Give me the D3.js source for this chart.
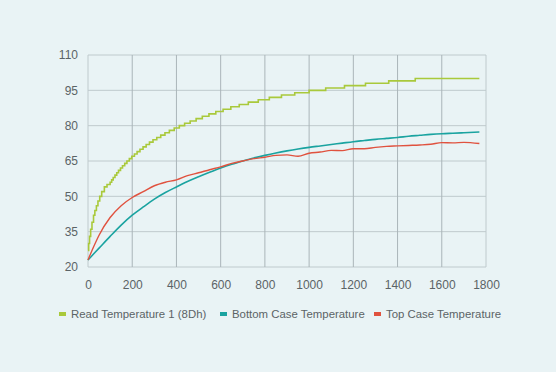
<!DOCTYPE html>
<html>
<head>
<meta charset="utf-8">
<script src="https://cdn.jsdelivr.net/npm/d3@7"></script>
<style>
  html, body { margin: 0; padding: 0; background: #e9f3f5; }
  text { font-family: "Liberation Sans", Arial, sans-serif; }
</style>
</head>
<body>
<svg id="chart" width="556" height="372"></svg>
<script>
(function(){
    'use strict';

    // Read Temperature 1 (8Dh): time at which each reading step starts
    const readTime  = [0, 3, 7, 12, 18, 25, 31, 38, 45, 53, 62, 74, 86, 100, 107, 114, 122, 130, 138, 147, 156, 166, 176, 187, 198, 210, 222, 235, 249, 263, 278, 294, 311, 329, 348, 368, 390, 413, 437, 462, 489, 517, 547, 578, 611, 646, 684, 725, 770, 820, 875, 935, 1000, 1075, 1160, 1255, 1360, 1480, 1770];
    const readValue = [27, 30, 33, 36, 39, 42, 44, 46, 48, 50, 52, 54, 55, 56, 57, 58, 59, 60, 61, 62, 63, 64, 65, 66, 67, 68, 69, 70, 71, 72, 73, 74, 75, 76, 77, 78, 79, 80, 81, 82, 83, 84, 85, 86, 87, 88, 89, 90, 91, 92, 93, 94, 95, 96, 97, 98, 99, 100, 100];

    // Bottom / top case temperatures sampled along time
    const caseTime    = [0, 25, 50, 100, 150, 200, 250, 300, 350, 400, 450, 500, 550, 600, 650, 700, 750, 800, 850, 900, 950, 1000, 1050, 1100, 1150, 1200, 1250, 1300, 1350, 1400, 1450, 1500, 1550, 1600, 1650, 1700, 1770];
    const bottomValue = [23, 25.5, 28, 33, 37.8, 42, 45.5, 48.8, 51.6, 54, 56.3, 58.3, 60.2, 62, 63.6, 65, 66.3, 67.4, 68.4, 69.3, 70.1, 70.8, 71.4, 72, 72.6, 73.2, 73.7, 74.2, 74.6, 75, 75.5, 75.9, 76.3, 76.6, 76.8, 77, 77.3];
    const topValue    = [23, 28.5, 33.5, 41, 46, 49.5, 52, 54.5, 56, 57, 58.8, 60, 61.3, 62.5, 64, 65, 66, 66.6, 67.4, 67.6, 67, 68.3, 68.8, 69.5, 69.4, 70.2, 70.2, 70.8, 71.2, 71.4, 71.6, 71.8, 72.1, 72.8, 72.7, 72.9, 72.4];

    const xTicks = [0, 200, 400, 600, 800, 1000, 1200, 1400, 1600, 1800];
    const yTicks = [20, 35, 50, 65, 80, 95, 110];

    const seriesNames  = ['Read Temperature 1 (8Dh)', 'Bottom Case Temperature', 'Top Case Temperature'];
    const seriesColors = ['#a9c93b', '#1aa3a0', '#e0523f'];

    const margin = {top: 55, right: 70, bottom: 105, left: 88};
    const width = 556;
    const height = 372;

    const svg = d3.select('#chart');

    const x = d3.scaleLinear()
        .domain([0, 1800])
        .range([margin.left, width - margin.right]);

    const y = d3.scaleLinear()
        .domain([20, 110])
        .range([height - margin.bottom, margin.top]);

    // grid
    const grid = svg.append('g');
    grid.selectAll('line.h')
        .data(yTicks)
        .enter()
        .append('line')
            .attr('x1', x(0))
            .attr('x2', x(1800))
            .attr('y1', d => y(d))
            .attr('y2', d => y(d))
            .attr('stroke', '#bfcacd')
            .attr('stroke-width', 1);
    grid.selectAll('line.v')
        .data(xTicks)
        .enter()
        .append('line')
            .attr('x1', d => x(d))
            .attr('x2', d => x(d))
            .attr('y1', y(20))
            .attr('y2', y(110))
            .attr('stroke', d => (d === 0 || d === 1800) ? '#bfcacd' : '#aab5b9')
            .attr('stroke-width', 1);

    // axes (labels only)
    function xAxis(g){
        g.attr('transform', `translate(0, ${y(20)})`)
        .call(d3.axisBottom(x).tickValues(xTicks).tickFormat(d3.format('d')).tickSize(0).tickPadding(13));
    }

    function yAxis(g){
        g.attr('transform', `translate(${x(0)}, 0)`)
        .call(d3.axisLeft(y).tickValues(yTicks).tickFormat(d3.format('d')).tickSize(0).tickPadding(10));
    }

    [xAxis, yAxis].forEach(fn => {
        const g = svg.append('g').call(fn);
        g.select('.domain').remove();
        g.selectAll('text')
            .attr('fill', '#5b6366')
            .style('font-size', '12px')
            .style('font-family', '"Liberation Sans", Arial, sans-serif');
    });

    // lines
    const readLine = d3.line()
        .curve(d3.curveStepAfter)
        .x(i => x(readTime[i]))
        .y(i => y(readValue[i]));

    const caseLine = values => d3.line()
        .curve(d3.curveMonotoneX)
        .x(i => x(caseTime[i]))
        .y(i => y(values[i]));

    svg.append('path')
        .attr('d', caseLine(bottomValue)(d3.range(caseTime.length)))
        .attr('fill', 'none')
        .attr('stroke', seriesColors[1])
        .attr('stroke-width', 1.6);

    svg.append('path')
        .attr('d', caseLine(topValue)(d3.range(caseTime.length)))
        .attr('fill', 'none')
        .attr('stroke', seriesColors[2])
        .attr('stroke-width', 1.4);

    svg.append('path')
        .attr('d', readLine(d3.range(readTime.length)))
        .attr('fill', 'none')
        .attr('stroke', seriesColors[0])
        .attr('stroke-width', 1.6);

    // legend
    const legendX = [59, 220, 374];
    const legend = svg.append('g')
        .selectAll('g')
        .data(seriesNames)
        .enter()
        .append('g')
            .attr('transform', (d, i) => `translate(${legendX[i]}, 314)`);

    legend.append('rect')
        .attr('x', 0)
        .attr('y', -2)
        .attr('width', 7)
        .attr('height', 4)
        .attr('fill', (d, i) => seriesColors[i]);

    legend.append('text')
        .attr('x', 12)
        .attr('y', 0)
        .attr('dy', '0.35em')
        .attr('fill', '#5b6366')
        .style('font-size', '11.4px')
        .text(d => d);
})();
</script>
</body>
</html>
